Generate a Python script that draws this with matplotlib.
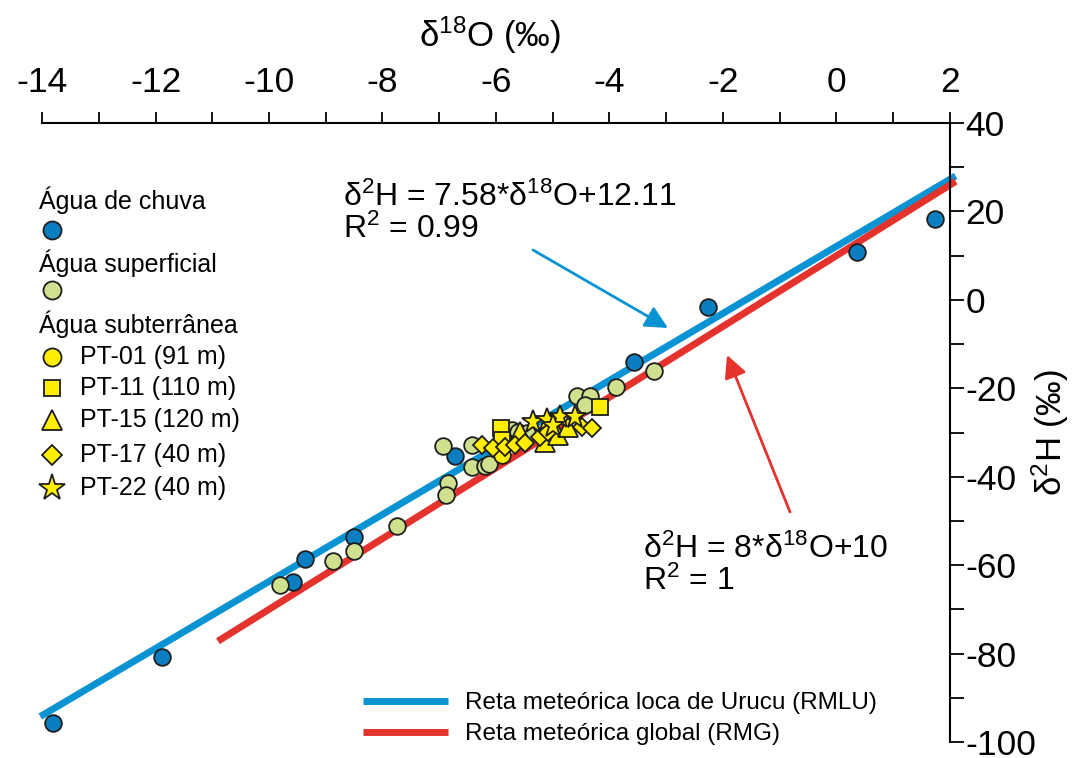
import numpy as np
import matplotlib
matplotlib.use("Agg")
import matplotlib.pyplot as plt
from matplotlib.lines import Line2D

plt.rcParams['font.family'] = ['Liberation Sans', 'DejaVu Sans']
plt.rcParams['mathtext.fontset'] = 'custom'
plt.rcParams['mathtext.rm'] = 'Liberation Sans'
plt.rcParams['mathtext.it'] = 'Liberation Sans:italic'
plt.rcParams['mathtext.default'] = 'regular'
plt.rcParams['axes.unicode_minus'] = False

# rain water (Água de chuva)
chuva_x = [-13.80, -11.88, -9.58, -9.36, -8.51, -6.73, -3.57, -2.27, 0.36, 1.74]
chuva_y = [-95.7, -80.8, -63.8, -58.7, -53.7, -35.3, -14.1, -1.6, 10.8, 18.3]

# surface water (Água superficial)
superf_x = [-9.81, -8.87, -8.50, -7.75, -6.94, -6.42, -6.85, -6.88, -6.42, -6.19,
            -6.12, -5.71, -5.61, -5.45, -4.57, -4.35, -4.43, -3.89, -3.22]
superf_y = [-64.6, -59.1, -56.9, -51.2, -33.0, -32.8, -41.4, -44.2, -37.8, -37.6,
            -37.1, -29.4, -29.8, -30.1, -21.8, -21.7, -23.8, -19.7, -16.1]

# groundwater wells (Água subterrânea)
pt01_x = [-5.89, -5.92]
pt01_y = [-35.2, -32.2]
pt11_x = [-5.92, -5.89, -4.17]
pt11_y = [-29.0, -31.7, -24.2]
pt15_x = [-5.57, -5.14, -4.91, -4.74]
pt15_y = [-29.9, -32.1, -30.5, -28.7]
pt17_x = [-6.25, -6.05, -5.85, -5.67, -5.49, -5.22, -5.09, -4.48, -4.31]
pt17_y = [-32.8, -33.4, -33.2, -32.8, -32.4, -31.0, -29.9, -28.7, -29.0]
pt22_x = [-5.35, -5.10, -4.88, -4.61, -4.99]
pt22_y = [-27.6, -27.1, -26.5, -26.5, -28.5]

# meteoric water lines: slope, intercept, x range
rmlu = (7.58, 12.11, [-14.03, 2.1])
rmg = (8.0, 10.0, [-10.9, 2.1])

blue_line = '#0a93d3'
blue_dot = '#0a7ec0'
green = '#cfe08e'
yellow = '#ffee00'
red = '#e4332d'
edge = '#1e1e1e'

W, H = 1075, 758
fig = plt.figure(figsize=(W / 100, H / 100), dpi=100)
ax = fig.add_axes([42 / W, 16 / H, 908 / W, 619 / H])


def px(x, y):
    # reference pixel (from top-left) -> figure fraction
    return x / W, 1 - y / H


for (m, b, xr), col in [(rmlu, blue_line), (rmg, red)]:
    xs = np.array(xr)
    ax.plot(xs, m * xs + b, color=col, lw=5, solid_capstyle='butt', zorder=2, clip_on=False)

kw = dict(linestyle='none', markeredgecolor=edge, markeredgewidth=1.3, zorder=3, clip_on=False)
ax.plot(chuva_x, chuva_y, 'o', color=blue_dot, markersize=12, **kw)
ax.plot(superf_x, superf_y, 'o', color=green, markersize=12, **kw)
ax.plot(pt01_x, pt01_y, 'o', color=yellow, markersize=12, **kw)
ax.plot(pt11_x, pt11_y, 's', color=yellow, markersize=11, **kw)
ax.plot(pt15_x, pt15_y, '^', color=yellow, markersize=14, **kw)
ax.plot(pt17_x, pt17_y, 'D', color=yellow, markersize=9.5, **kw)
ax.plot(pt22_x, pt22_y, '*', color=yellow, markersize=17, **kw)

ax.set_xlim(-14, 2)
ax.set_ylim(-100, 40)
for s in ['left', 'bottom']:
    ax.spines[s].set_visible(False)
for s in ['top', 'right']:
    ax.spines[s].set_linewidth(1.5)

ax.xaxis.tick_top()
ax.yaxis.tick_right()
ax.set_xticks(np.arange(-14, 3, 2))
ax.set_xticks(np.arange(-14, 3, 1), minor=True)
ax.set_yticks(np.arange(-100, 41, 20))
ax.set_yticks(np.arange(-100, 41, 10), minor=True)
ax.tick_params(axis='x', which='both', direction='out', length=8, width=1.3, labelsize=25.5, pad=9)
ax.tick_params(axis='y', which='both', direction='out', length=10, width=1.3, labelsize=25.5, pad=1)

ax.set_xlabel('δ$^{18}$O (‰)', fontsize=25, va='center', ha='center')
ax.xaxis.set_label_coords(0.493, 1.142)
ax.set_ylabel('δ$^{2}$H (‰)', fontsize=25, rotation=90, va='center', ha='center')
ax.yaxis.set_label_coords(1.11, 0.5)

# equations
eqs = [('δ$^{2}$H = 7.58*δ$^{18}$O+12.11', 343, 206), ('R$^{2}$ = 0.99', 343, 238),
       ('δ$^{2}$H = 8*δ$^{18}$O+10', 643, 558), ('R$^{2}$ = 1', 643, 590)]
for txt, xx, yy in eqs:
    fig.text(*px(xx, yy), txt, fontsize=23, va='baseline', ha='left')

for tail, head, col in [((533, 250), (668, 328), blue_line), ((790, 512), (727, 355), red)]:
    ax.annotate('', xy=(head[0], H - head[1]), xycoords='figure pixels',
                xytext=(tail[0], H - tail[1]), textcoords='figure pixels',
                arrowprops=dict(arrowstyle='-|>', color=col, lw=2, mutation_scale=34,
                                shrinkA=0, shrinkB=0))

# left key
headers = [('Água de chuva', 200), ('Água superficial', 263), ('Água subterrânea', 324)]
for txt, yy in headers:
    fig.text(*px(39, yy), txt, fontsize=18, va='center', ha='left')

key_markers = [('o', blue_dot, 13, 230, ''), ('o', green, 13, 290, ''),
               ('o', yellow, 13, 357, 'PT-01 (91 m)'), ('s', yellow, 12, 388, 'PT-11 (110 m)'),
               ('^', yellow, 14, 420, 'PT-15 (120 m)'), ('D', yellow, 10, 455, 'PT-17 (40 m)'),
               ('*', yellow, 20, 488, 'PT-22 (40 m)')]
for mk, col, sz, yy, lab in key_markers:
    fig.add_artist(Line2D([52 / W], [1 - yy / H], marker=mk, markersize=sz,
                          markerfacecolor=col, markeredgecolor=edge, markeredgewidth=1.3,
                          linestyle='none', transform=fig.transFigure))
    if lab:
        fig.text(*px(80, yy), lab, fontsize=18, va='center', ha='left')

handles = [Line2D([], [], color=blue_line, lw=5, solid_capstyle='butt'),
           Line2D([], [], color=red, lw=5, solid_capstyle='butt')]
labels = ['Reta meteórica loca de Urucu (RMLU)', 'Reta meteórica global (RMG)']
ax.legend(handles, labels, loc='upper left', bbox_to_anchor=px(363, 692),
          bbox_transform=fig.transFigure, frameon=False, fontsize=17.5,
          handlelength=3.5, handletextpad=0.7, borderpad=0, borderaxespad=0,
          labelspacing=0.38)

fig.savefig('out.png', dpi=100)
